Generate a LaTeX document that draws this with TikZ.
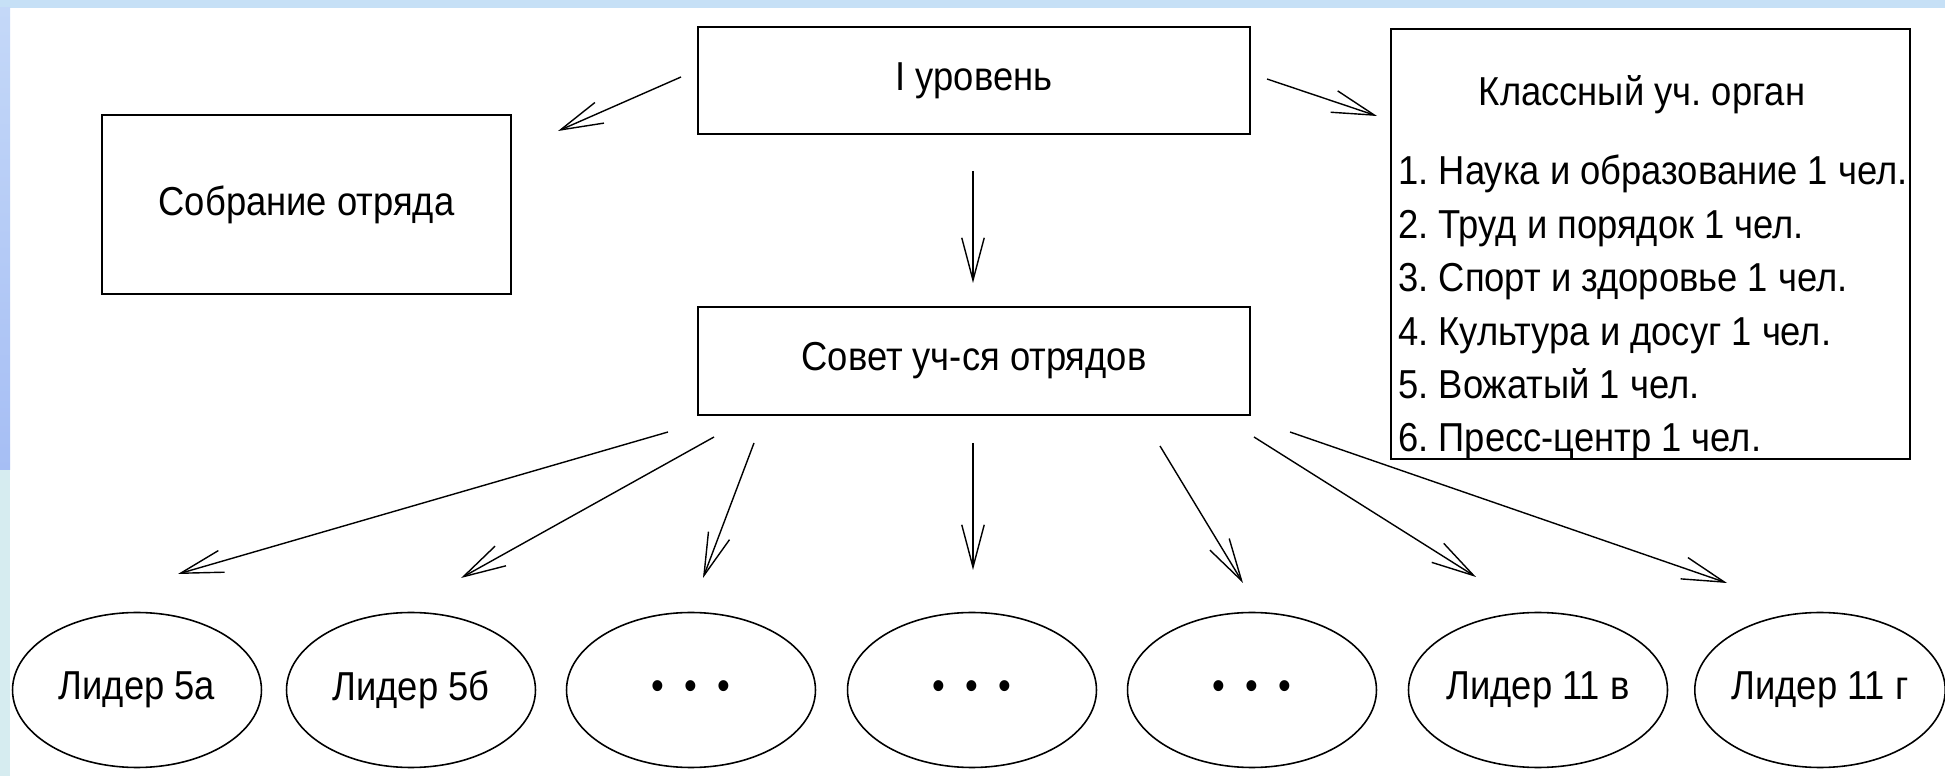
\documentclass[tikz,border=0pt]{standalone}
\usepackage{fontspec}
\setmainfont{Liberation Sans}[FakeStretch=0.9]
\usetikzlibrary{arrows.meta,shapes.geometric}

\definecolor{barblue}{RGB}{198,224,246}
\definecolor{striptop}{RGB}{196,216,248}
\definecolor{stripblue}{RGB}{166,190,244}
\definecolor{stripcyan}{RGB}{214,236,240}

\newcommand{\threedots}{\textbullet\hspace{0.41cm}\textbullet\hspace{0.41cm}\textbullet}

\begin{document}
\frenchspacing
\begin{tikzpicture}[x=0.02cm, y=-0.02cm,
  box/.style={draw, line width=1.3pt, inner sep=0pt, font=\fontsize{23}{27}\selectfont},
  plain/.style={inner sep=0pt, font=\fontsize{23}{27}\selectfont},
  leader/.style={draw, ellipse, line width=0.9pt, inner sep=0pt, minimum width=4.98cm, minimum height=3.1cm, font=\fontsize{23}{27}\selectfont},
  arr/.style={-{Straight Barb[length=0.85cm,width=0.45cm]}, line width=0.8pt}]

\useasboundingbox (0,0) rectangle (1945,776);
\fill[white] (0,0) rectangle (1945,776);
\fill[barblue] (0,0) rectangle (1945,8);
\shade[top color=striptop, bottom color=stripblue] (0,8) rectangle (10,470);
\fill[stripcyan] (0,470) rectangle (10,776);

% boxes
\node[box, minimum width=11.04cm, minimum height=2.14cm] (level) at (974,80.5) {I уровень};
\node[box, minimum width=8.18cm, minimum height=3.58cm] (meeting) at (306.5,204.5) {Собрание отряда};
\node[box, minimum width=11.04cm, minimum height=2.16cm] (council) at (974,361) {Совет уч-ся отрядов};
\node[box, minimum width=10.38cm, minimum height=8.6cm] (organ) at (1650.5,244) {};
\node[plain, anchor=base] (organtitle) at (1642,106) {Классный уч. орган};

\foreach \t [count=\i] in {1. Наука и образование 1 чел., 2. Труд и порядок 1 чел., 3. Спорт и здоровье 1 чел., 4. Культура и досуг 1 чел., 5. Вожатый 1 чел., 6. Пресс-центр 1 чел.}
    \node[plain, anchor=base west] (item\i) at (1398,{185+53.4*(\i-1)}) {\t};

% leaders
\foreach \x/\t [count=\i] in {137/Лидер 5а, 411/Лидер 5б, 691/\threedots, 972/\threedots, 1252/\threedots, 1538/Лидер 11 в, 1820/Лидер 11 г}
    \node[leader] (lead\i) at (\x,690) {\t};

% arrows
\foreach \a/\b/\c/\d [count=\i] in {681/77/558/131, 1267/79/1377/116, 973/171/973/283,
        668/432/178/574, 714/437/461/578, 754/443/703/578, 973/443/973/570,
        1160/446/1243/583, 1254/437/1476/577, 1290/432/1727/583} {
    \coordinate (from\i) at (\a,\b);
    \coordinate (to\i) at (\c,\d);
    \draw[arr] (from\i) -- (to\i);
}
\end{tikzpicture}
\end{document}
